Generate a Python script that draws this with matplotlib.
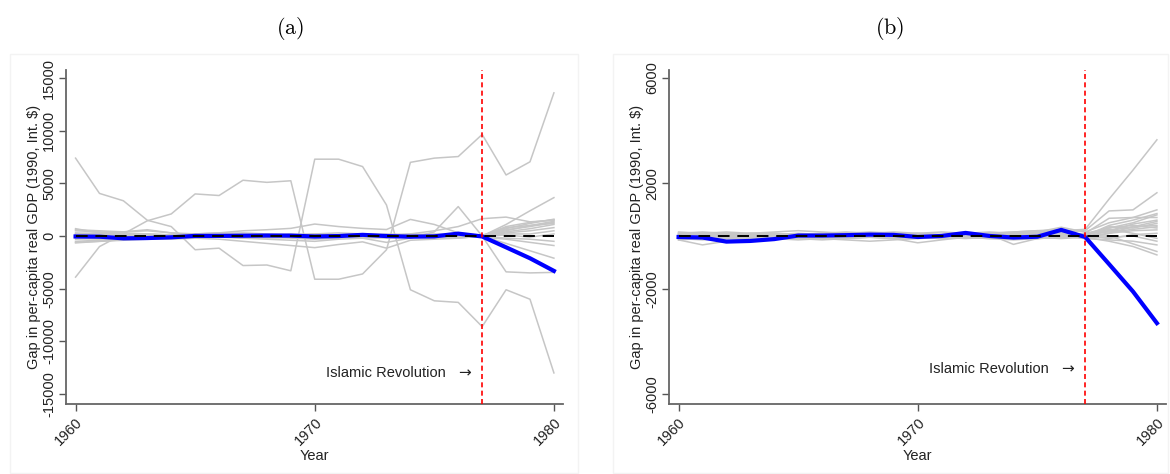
import numpy as np
import matplotlib
matplotlib.use("Agg")
import matplotlib.pyplot as plt
from matplotlib.patches import Rectangle

plt.rcParams['font.family'] = ['Liberation Sans', 'DejaVu Sans']
plt.rcParams['mathtext.fontset'] = 'cm'

# -------------------------------
# Data
# -------------------------------
years = list(range(1960, 1981))
treat_year = 1977

# Iran: gap between actual and synthetic
iran_gap = [-40, -60, -215, -190, -120, 15, 15, 30, 50, 40, -40, 0, 115, 0,
            -60, -30, 230, -40, -1070, -2110, -3310]

# panel (a): placebo gaps, all donors
placebo_a = [
    [7400, 4050, 3350, 1500, 900, -1300, -1150, -2800, -2750, -3300, 7300,
     7300, 6600, 2950, -5100, -6150, -6300, -8600, -5100, -6000, -13000],
    [-3900, -1000, 200, 1450, 2100, 4000, 3850, 5300, 5100, 5250, -4100,
     -4100, -3600, -1300, 7000, 7400, 7550, 9650, 5800, 7050, 13600],
    [600, 500, 400, 600, 300, 100, 0, -200, -300, -400, -500, -300, -200,
     -600, -200, 400, 2800, 0, -3400, -3500, -3450],
    [100, 0, -100, 0, 100, 200, 300, 500, 600, 730, 1140, 900, 730, 620,
     1580, 1100, 300, 0, 1100, 2400, 3650],
    [-600, -500, -400, -300, -300, -200, -300, -500, -700, -900, -1100,
     -800, -550, -1150, -400, -300, -200, 0, -700, -1400, -2100],
    [200, 300, 400, 500, 300, 200, 100, 0, -100, -200, -300, -200, -100, 0,
     200, 500, 900, 1650, 1800, 1350, 1500],
    [500, 400, 300, 200, 100, 100, 200, 100, 0, 100, 200, 100, 0, -100, 0,
     100, 200, 100, 600, 900, 1300],
    [-500, -400, -300, -200, -100, -50, 0, -100, -200, -100, 0, 100, 50, 0,
     -100, -200, -100, 0, 400, 700, 1100],
    [200, 100, 0, -100, 0, 100, 200, 300, 200, 100, 0, -100, -200, -100, 0,
     100, 0, 0, 800, 1000, 1200],
    [-200, -300, -200, -100, 0, 100, 0, -100, 0, 100, 200, 300, 200, 100, 0,
     -100, -200, 0, 300, 500, 800],
    [100, 200, 100, 0, -100, -200, -100, 0, 100, 0, -100, 0, 100, 200, 100,
     0, 100, 0, 200, 200, 500],
    [-100, 0, 100, 200, 100, 0, -100, -200, -100, 0, 100, 0, -100, 0, 100,
     200, 100, 0, -200, -300, -500],
    [300, 200, 100, 0, 100, 200, 300, 200, 100, 0, -100, -200, -100, 0, 100,
     0, -100, 0, 500, 1000, 1400],
    [-300, -200, -100, 0, -100, -200, -100, 0, 100, 200, 100, 0, -100, -200,
     -100, 0, 100, 0, 100, -100, 200],
    [0, -100, -200, -300, -200, -100, 0, 100, 0, -100, -200, -100, 0, 100,
     200, 100, 0, 0, 700, 1200, 1600],
    [700, 300, 200, 100, 0, -100, 0, 100, 0, -100, 0, 100, 200, 100, 0,
     -100, 0, 0, 900, 1300, 1550],
    [-650, -500, -350, -200, -150, -100, -50, 0, 50, 0, -50, -100, -50, 0,
     50, 0, -50, -100, -300, -600, -900],
]

# panel (b): placebo gaps, donors with good pre-treatment fit
placebo_b = [
    [100, 150, 100, 50, 0, 50, 100, 150, 100, 50, 0, -50, 0, 50, 100, 150, 200, 250, 1400, 2500, 3650],
    [-100, -50, 0, 50, 100, 50, 0, -50, 0, 50, 100, 150, 100, 50, 0, 100, 150, 200, 950, 990, 1640],
    [50, 100, 150, 100, 50, 0, -50, -100, -50, 0, 50, 0, -50, 0, 50, 100, 50, 100, 670, 700, 990],
    [-150, -340, -200, -100, -50, 0, 50, 100, 50, 0, -50, 0, 50, 100, 50, 0, -50, 0, 400, 600, 850],
    [0, 50, 100, 50, 0, -50, 0, 50, 100, 150, 100, 50, 0, -50, -100, -50, 0, 50, 300, 500, 800],
    [150, 100, 50, 0, -50, -100, -150, -100, -50, 0, -50, -100, -50, 0, 50, 100, 50, -50, 200, 450, 600],
    [-50, 0, 50, 100, 150, 200, 150, 100, 50, 0, -50, 0, 50, 100, 150, 200, 250, 0, 350, 300, 480],
    [50, 0, -50, -100, -50, 0, 50, 0, -50, -100, -260, -150, -50, 0, 50, 0, -50, 100, 150, 250, 350],
    [-100, -150, -100, -50, 0, 50, 100, 50, 0, -50, 0, 50, 100, 50, -320, -100, 0, -100, 100, 200, 230],
    [100, 50, 0, -50, -100, -150, -100, -50, 0, 50, 100, 50, 0, -50, 0, 50, 100, 0, -100, 50, 100],
    [0, -50, -100, -150, -100, -50, 0, 50, 100, 50, 0, -50, -100, -50, 0, 50, 0, 50, 250, 100, -90],
    [-50, 0, 50, 0, -50, 0, 50, 100, 50, 0, -50, -100, -50, 0, 50, 100, 150, -100, -150, -200, -340],
    [50, 100, 50, 0, -50, -100, -50, 0, 50, 100, 50, 0, -50, -100, -150, -100, -50, 0, 0, -300, -590],
    [-100, -50, 0, 50, 0, -50, -100, -150, -200, -150, -100, -50, 0, 50, 0, -50, -100, -50, -200, -400, -720],
    [0, 50, 0, -50, 0, 50, 0, -50, 0, 50, 0, 50, 100, 150, 100, 150, 330, 150, 500, 700, 700],
    [-50, -100, -50, 0, 50, 100, 50, 0, -50, -100, -50, 0, 50, 0, -50, 0, 50, 0, 100, 350, 550],
    [100, 50, 0, -50, -50, 0, 50, 100, 150, 100, 50, 0, -50, -100, -50, 0, -50, -50, -50, 0, -200],
    [-150, -100, -50, -50, 0, 0, 50, 50, 100, 100, 50, 0, 0, -50, -100, -100, -50, 100, 300, 400, 300],
    [0, 0, 50, 100, 100, 50, 0, 0, -50, -50, 0, 50, 100, 100, 150, 200, 100, 50, 200, 350, 400],
]

yticks_a = [-15000, -10000, -5000, 0, 5000, 10000, 15000]
yticks_b = [-6000, -2000, 2000, 6000]
xticks = [1960, 1970, 1980]

W, H = 1170, 474
fig = plt.figure(figsize=(W / 100, H / 100), dpi=100)

# faint frames around each panel (graph region)
for x0, x1 in [(10, 578), (613, 1168)]:
    fig.patches.append(Rectangle((x0 / W, 1 - 473 / H), (x1 - x0) / W, (473 - 54) / H,
                                 transform=fig.transFigure, fill=False,
                                 edgecolor='#f3f3f3', linewidth=1))


def draw_panel(ax, placebos, yticks, ylim, label_y, title, title_x):
    for series in placebos:
        ax.plot(years, series, color='#c6c6c6', linewidth=1.1, zorder=1)
    ax.plot(years, iran_gap, color='#0000ff', linewidth=3.0, zorder=3)
    ax.plot(years, [0] * len(years), color='black', linewidth=1.4,
            dashes=(6, 4), zorder=4)
    ax.axvline(treat_year, color='#ff0000', linewidth=1.2,
               dashes=(3, 2), zorder=5)
    ax.text(1975.48, label_y, 'Islamic Revolution', ha='right',
            va='center', fontsize=10.5, color='#222222')
    ax.text(1976.26, label_y, '\u2192', ha='center', va='center',
            fontsize=11, color='#222222', family='DejaVu Sans')

    ax.set_xlim(1959.6, 1980.38)
    ax.set_ylim(*ylim)
    ax.set_xticks(xticks)
    ax.set_yticks(yticks)
    ax.set_yticklabels([str(v) for v in yticks], rotation=90, va='center')
    ax.set_xticklabels([str(v) for v in xticks], rotation=45, ha='right',
                       rotation_mode='anchor')
    ax.tick_params(labelsize=10.5, length=5, width=1, color='#555555',
                   labelcolor='#222222')
    ax.tick_params(axis='y', pad=2)
    ax.tick_params(axis='x', pad=3)
    for side in ['top', 'right']:
        ax.spines[side].set_visible(False)
    for side in ['left', 'bottom']:
        ax.spines[side].set_color('#666666')
        ax.spines[side].set_linewidth(1.3)
    ax.set_xlabel('Year', fontsize=10.5, color='#222222', labelpad=1)
    ax.set_ylabel('Gap in per-capita real GDP (1990, Int. $)', fontsize=10.5,
                  color='#222222', labelpad=1)
    fig.text(title_x / W, 1 - 28 / H, title, ha='center', va='center',
             fontsize=16)


ax1 = fig.add_axes([66 / W, 1 - 404 / H, 497 / W, 334 / H])
draw_panel(ax1, placebo_a, yticks_a, (-15950, 15770), -13000,
           r'$\mathrm{(a)}$', 290)

ax2 = fig.add_axes([669 / W, 1 - 404 / H, 497 / W, 334 / H])
draw_panel(ax2, placebo_b, yticks_b, (-6380, 6300), -5050,
           r'$\mathrm{(b)}$', 890)

fig.savefig('out.png', dpi=100)
